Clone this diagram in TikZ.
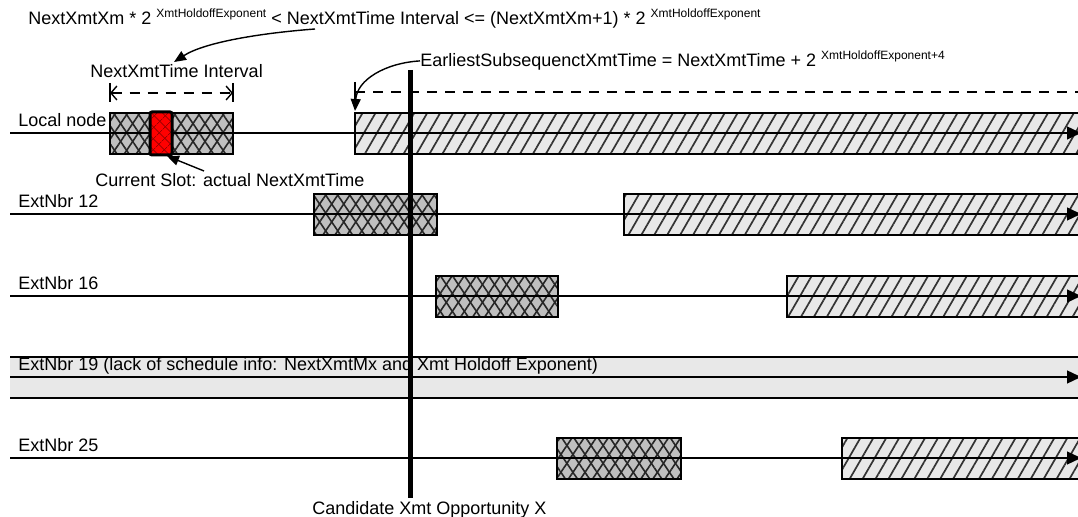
\documentclass[tikz,border=0pt]{standalone}
\usepackage{fontspec}
\setmainfont{Liberation Sans}
\usetikzlibrary{patterns.meta,arrows.meta,positioning,calc}

\newcommand\expo[1]{\raisebox{3.6pt}{\fontsize{6}{6}\selectfont #1}}

\tikzset{
    txt/.style={font=\fontsize{9}{11}\selectfont, inner sep=0pt},
    rowline/.style={line width=0.7pt, -{Triangle[length=7pt,width=6.5pt]}},
    crossbox/.style={preaction={fill=gray!50},
        preaction={pattern={Lines[angle=56,distance=5pt,line width=0.8pt]}, pattern color=black!85},
        preaction={pattern={Lines[angle=-56,distance=5pt,line width=0.8pt]}, pattern color=black!85},
        draw, line width=0.6pt},
    hatchbox/.style={preaction={fill=gray!18},
        preaction={pattern={Lines[angle=60,distance=5.6pt,line width=0.85pt]}, pattern color=black!80},
        draw, line width=0.6pt},
    dimline/.style={dashed, dash pattern=on 5pt off 4pt, line width=0.7pt},
    callout/.style={line width=0.7pt, -{Triangle[length=6pt,width=5pt]}}
}

\begin{document}
\begin{tikzpicture}[x=0.5pt, y=-0.5pt]
    \useasboundingbox (0,0) rectangle (1078,517);

    % Formula at the top
    \node[txt, anchor=base west] (toptxt) at (28,25)
        {NextXmtXm * 2 \expo{XmtHoldoffExponent} < NextXmtTime Interval <= (NextXmtXm+1) * 2 \expo{XmtHoldoffExponent}};
    \node[txt, anchor=base west] (intervaltxt) at (90,78) {NextXmtTime Interval};
    \coordinate (fromtop) at (315,29);
    \coordinate (tointerval) at (174,62);
    \draw[callout] (fromtop) .. controls (262,33) and (205,42) .. (tointerval);

    % Interval markers
    \draw[dimline, {Straight Barb[length=3pt,width=7pt]}-{Straight Barb[length=3pt,width=7pt]}] (110,93) -- (233,93);
    \draw[line width=0.7pt] (110,83) -- (110,102);
    \draw[line width=0.7pt] (233,83) -- (233,102);
    \draw[dimline] (355,92) -- (1090,92);
    \draw[line width=0.7pt] (355,82) -- (355,100);

    % Busy / blocked intervals
    \draw[crossbox] (110,113) rectangle (233,154);
    \draw[hatchbox] (355,113) rectangle (1090,154);
    \draw[crossbox] (314,194) rectangle (437,235);
    \draw[hatchbox] (624,194) rectangle (1090,235);
    \draw[crossbox] (436,276) rectangle (558,317);
    \draw[hatchbox] (787,276) rectangle (1090,317);
    \draw[crossbox] (557,438) rectangle (681,479);
    \draw[hatchbox] (842,438) rectangle (1090,479);

    % ExtNbr 19 band
    \fill[gray!18] (10,357) rectangle (1090,398);
    \draw[line width=1pt] (10,357) -- (1090,357);
    \draw[line width=1pt] (10,398) -- (1090,398);

    % Time lines
    \foreach \row/\y/\lab in {local/133/Local node, n12/214/ExtNbr 12, n16/296/ExtNbr 16,
            n19/377/ExtNbr 19 (lack of schedule info: NextXmtMx and Xmt Holdoff Exponent), n25/458/ExtNbr 25} {
        \draw[rowline] (10,\y) -- (1081,\y);
        \node[txt, anchor=base west] (lbl-\row) at (18,\y-6) {\lab};
    }

    % Current slot
    \draw[line width=1.5pt, rounded corners=1pt, preaction={fill=red},
        preaction={pattern={Hatch[angle=45,distance=4pt,line width=0.3pt]}, pattern color=red!60!black}]
        (150,112) rectangle (172,155);
    \node[txt, anchor=base west] (slottxt) at (95,187) {Current Slot: actual NextXmtTime};
    \coordinate (fromslot) at (204,171);
    \coordinate (toslot) at (167,156);
    \draw[callout] (fromslot) -- (toslot);

    % Earliest subsequent time
    \node[txt, anchor=base west] (earliesttxt) at (420,67)
        {EarliestSubsequenctXmtTime = NextXmtTime + 2 \expo{XmtHoldoffExponent+4}};
    \coordinate (toearliest) at (355,111);
    \draw[callout] (earliesttxt.west) .. controls (385,63) and (357,80) .. (toearliest);

    % Candidate opportunity
    \coordinate (candtop) at (410,70);
    \coordinate (candbot) at (410,498);
    \draw[line width=2.5pt] (candtop) -- (candbot);
    \node[txt, anchor=base west] (candtxt) at (312,515) {Candidate Xmt Opportunity X};

\end{tikzpicture}
\end{document}
